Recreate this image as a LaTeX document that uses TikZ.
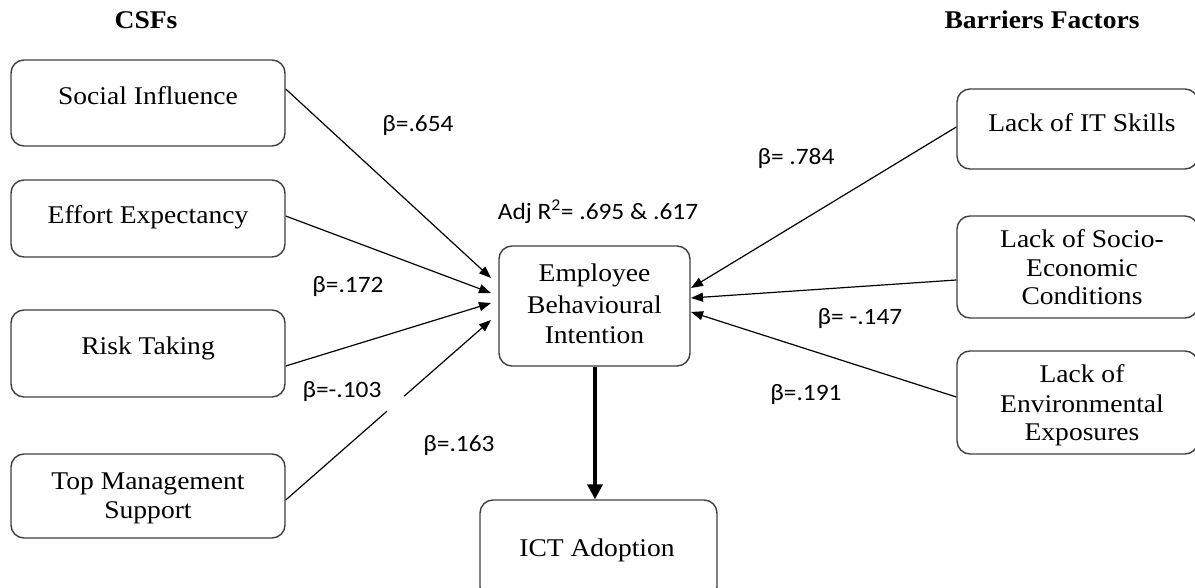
\documentclass[tikz,border=0pt]{standalone}
\usepackage{fontspec}
\setmainfont{Liberation Serif}[FakeStretch=1.08]
\newfontfamily\lblfont{Carlito}[FakeStretch=1.08]
\usetikzlibrary{arrows.meta}
\begin{document}
\begin{tikzpicture}[x=1pt,y=-1pt,
  box/.style={draw=black!75,line width=1.4pt,rounded corners=13pt,inner sep=0pt,fill=white},
  txt/.style={anchor=base,inner sep=0pt,font=\fontsize{25.5}{30}\selectfont},
  hdr/.style={anchor=base,inner sep=0pt,font=\fontsize{25.5}{30}\selectfont\bfseries},
  lbl/.style={anchor=base,inner sep=0pt,font=\lblfont\fontsize{23.5}{28}\selectfont},
  arr/.style={line width=1.2pt,-{Triangle[length=12pt,width=9pt]}},
  thickarr/.style={line width=4pt,-{Triangle[length=15pt,width=15pt]}}]
\useasboundingbox (0,0) rectangle (1195,588);
\clip (0,0) rectangle (1195,588);
% headers
\node[hdr] (h1) at (146,29) {CSFs};
\node[hdr] (h2) at (1042,29) {Barriers Factors};
% boxes
\node[box,minimum width=274pt,minimum height=86pt] (si) at (148,103) {};
\node[box,minimum width=274pt,minimum height=77pt] (ee) at (148,218.5) {};
\node[box,minimum width=274pt,minimum height=87pt] (rt) at (148,353.5) {};
\node[box,minimum width=274pt,minimum height=84pt] (tms) at (148,496) {};
\node[box,minimum width=191pt,minimum height=120pt] (ebi) at (594.5,306) {};
\node[box,minimum width=237pt,minimum height=100pt] (ict) at (598.5,550) {};
\node[box,minimum width=241pt,minimum height=80pt] (it) at (1077.5,129) {};
\node[box,minimum width=241pt,minimum height=102pt] (se) at (1077.5,267) {};
\node[box,minimum width=241pt,minimum height=103pt] (env) at (1077.5,402.5) {};
% box texts
\node[txt] (si-t) at (148,105) {Social Influence};
\node[txt] (ee-t) at (148,224) {Effort Expectancy};
\node[txt] (rt-t) at (148,355) {Risk Taking};
\node[txt] (tms-t1) at (148,489) {Top Management};
\node[txt] (tms-t2) at (148,518) {Support};
\node[txt] (ebi-t1) at (594.5,282) {Employee};
\node[txt] (ebi-t2) at (594.5,313) {Behavioural};
\node[txt] (ebi-t3) at (594.5,343) {Intention};
\node[txt] (ict-t) at (597,556) {ICT Adoption};
\node[txt] (it-t) at (1082,132) {Lack of IT Skills};
\node[txt] (se-t1) at (1082,248) {Lack of Socio-};
\node[txt] (se-t2) at (1082,277) {Economic};
\node[txt] (se-t3) at (1082,305) {Conditions};
\node[txt] (env-t1) at (1082,382) {Lack of};
\node[txt] (env-t2) at (1082,412) {Environmental};
\node[txt] (env-t3) at (1082,440) {Exposures};
% connector end points
\coordinate (a1) at (si.east |- 0,89);
\coordinate (a2) at (ee.east |- 0,216);
\coordinate (a3) at (rt.east |- 0,366);
\coordinate (a4) at (tms.east |- 0,500);
\coordinate (b1) at (it.west |- 0,127);
\coordinate (b2) at (se.west |- 0,280);
\coordinate (b3) at (env.west |- 0,397);
\coordinate (e1) at (491,278);
\coordinate (e2) at (491,293);
\coordinate (e3) at (491,303);
\coordinate (e4) at (491,320);
\coordinate (f1) at (691,288);
\coordinate (f2) at (691,298);
\coordinate (f3) at (691,312);
% connectors
\draw[arr] (a1) -- (e1);
\draw[arr] (a2) -- (e2);
\draw[arr] (a3) -- (e3);
\draw[arr] (a4) -- (e4);
\draw[white,line width=4pt] (387,411) -- (404,396);
\draw[arr] (b1) -- (f1);
\draw[arr] (b2) -- (f2);
\draw[arr] (b3) -- (f3);
\draw[thickarr] (ebi.south -| 595,0) -- (ict.north -| 595,0);
% labels
\node[lbl] (l1) at (418,132) {β=.654};
\node[lbl] (l2) at (348,293) {β=.172};
\node[lbl] (l3) at (342,397) {β=-.103};
\node[lbl] (l4) at (459,451) {β=.163};
\node[lbl] (l5) at (598,220) {Adj R\textsuperscript{2}= .695 \& .617};
\node[lbl] (l6) at (796,165) {β= .784};
\node[lbl] (l7) at (860,324) {β= -.147};
\node[lbl] (l8) at (806,400) {β=.191};
\end{tikzpicture}
\end{document}
